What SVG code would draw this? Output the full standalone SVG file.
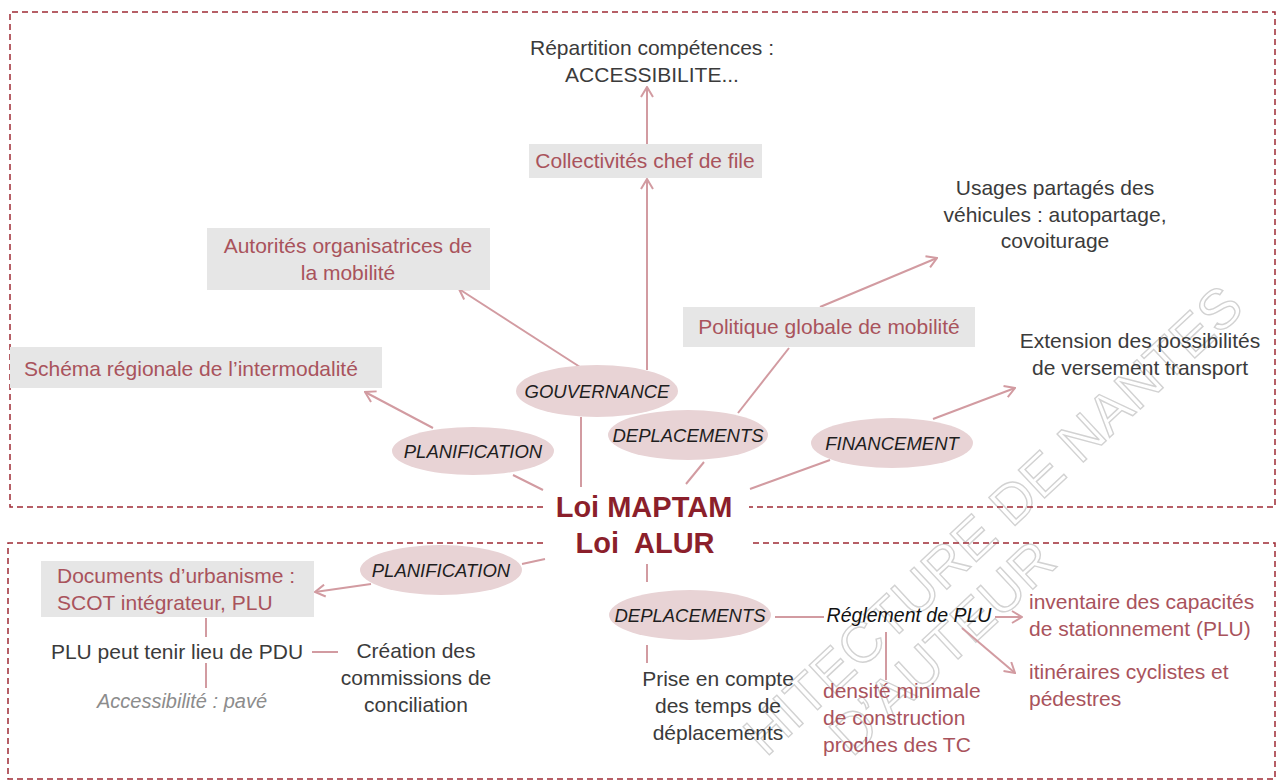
<svg xmlns="http://www.w3.org/2000/svg" width="1277" height="780" viewBox="0 0 1277 780">
<style>
  text { font-family: "Liberation Sans", Arial, sans-serif; }
  .dk { font-size: 21px; fill: #3b3b3b; text-anchor: middle; }
  .rd { font-size: 21px; fill: #a9535c; }
  .mid { text-anchor: middle; }
  .box { fill: #e6e6e6; }
  .ell { fill: #e8d3d5; }
  .el { font-size: 18.5px; font-style: italic; fill: #1e1e1e; text-anchor: middle; }
  .title { font-size: 29px; font-weight: bold; fill: #8b1f2b; text-anchor: middle; }
  .frame { fill: none; stroke: #9e2a35; stroke-width: 1.5; stroke-dasharray: 6 4; }
  .c { fill: none; stroke: #d29ba1; stroke-width: 2; }
  .a { marker-end: url(#arr); }
  .wm { font-size: 56px; fill: none; stroke: #d2d2d2; stroke-width: 1.4; }
</style>
<defs>
  <marker id="arr" viewBox="0 0 12 14" refX="11" refY="7" markerWidth="12" markerHeight="14" markerUnits="userSpaceOnUse" orient="auto">
    <path d="M1,1 L11,7 L1,13" fill="none" stroke="#d29ba1" stroke-width="2"/>
  </marker>
</defs>
<rect width="1277" height="780" fill="#ffffff"/>

<g id="watermark">
  <text class="wm" transform="translate(766,758) rotate(-43)">HITECTURE DE NANTES</text>
  <text class="wm" transform="translate(852,758) rotate(-43)">D’AUTEUR</text>
</g>

<g id="frames">
  <path class="frame" d="M543,507 H10 V12 H1275 V507 H749"/>
  <path class="frame" d="M543,543 H8 V779 H1275 V543 H749"/>
</g>

<g id="connectors">
  <line class="c a" x1="647" y1="144" x2="647" y2="87"/>
  <line class="c a" x1="647" y1="370" x2="647" y2="179"/>
  <line class="c a" x1="580" y1="367" x2="459" y2="289"/>
  <line class="c" x1="581" y1="417" x2="581" y2="487"/>
  <line class="c a" x1="433" y1="428" x2="365" y2="392"/>
  <line class="c" x1="513" y1="475" x2="543" y2="490"/>
  <line class="c" x1="738" y1="413" x2="789" y2="348"/>
  <line class="c" x1="704" y1="462" x2="686" y2="484"/>
  <line class="c a" x1="820" y1="307" x2="937" y2="258"/>
  <line class="c a" x1="933" y1="419" x2="1015" y2="388"/>
  <line class="c" x1="750" y1="489" x2="830" y2="460"/>
  <line class="c" x1="545" y1="559" x2="522" y2="564"/>
  <line class="c a" x1="371" y1="584" x2="315" y2="592"/>
  <line class="c" x1="206" y1="618" x2="206" y2="637"/>
  <line class="c" x1="206" y1="663" x2="206" y2="688"/>
  <line class="c" x1="312" y1="652" x2="338" y2="652"/>
  <line class="c" x1="647" y1="564" x2="647" y2="582"/>
  <line class="c" x1="647" y1="645" x2="647" y2="663"/>
  <line class="c" x1="775" y1="617" x2="824" y2="617"/>
  <line class="c a" x1="995" y1="617" x2="1022" y2="617"/>
  <line class="c" x1="886" y1="632" x2="886" y2="680"/>
  <line class="c a" x1="962" y1="628" x2="1015" y2="673"/>
</g>

<g id="n-repartition">
  <text class="dk" x="652" y="55">Répartition compétences :</text>
  <text class="dk" x="652" y="82">ACCESSIBILITE...</text>
</g>
<g id="n-collectivites">
  <rect class="box" x="529" y="144" width="233" height="34"/>
  <text class="rd mid" x="645" y="168">Collectivités chef de file</text>
</g>
<g id="n-autorites">
  <rect class="box" x="207" y="228" width="283" height="62"/>
  <text class="rd mid" x="348" y="253">Autorités organisatrices de</text>
  <text class="rd mid" x="348" y="280">la mobilité</text>
</g>
<g id="n-schema">
  <rect class="box" x="10" y="347" width="372" height="41"/>
  <text class="rd" x="24" y="376">Schéma régionale de l’intermodalité</text>
</g>
<g id="n-politique">
  <rect class="box" x="683" y="307" width="292" height="40"/>
  <text class="rd mid" x="829" y="334">Politique globale de mobilité</text>
</g>
<g id="n-usages">
  <text class="dk" x="1055" y="195">Usages partagés des</text>
  <text class="dk" x="1055" y="222">véhicules : autopartage,</text>
  <text class="dk" x="1055" y="248">covoiturage</text>
</g>
<g id="n-extension">
  <text class="dk" x="1140" y="348">Extension des possibilités</text>
  <text class="dk" x="1140" y="375">de versement transport</text>
</g>
<g id="n-gouvernance">
  <ellipse class="ell" cx="597" cy="391" rx="81" ry="26"/>
  <text class="el" x="597" y="398">GOUVERNANCE</text>
</g>
<g id="n-planif-top">
  <ellipse class="ell" cx="473" cy="451" rx="81" ry="24"/>
  <text class="el" x="473" y="458">PLANIFICATION</text>
</g>
<g id="n-deplac-top">
  <ellipse class="ell" cx="688" cy="435" rx="80" ry="25"/>
  <text class="el" x="688" y="442">DEPLACEMENTS</text>
</g>
<g id="n-financement">
  <ellipse class="ell" cx="892" cy="443" rx="81" ry="25"/>
  <text class="el" x="892" y="450">FINANCEMENT</text>
</g>
<g id="n-title">
  <text class="title" x="644" y="517">Loi MAPTAM</text>
  <text class="title" x="645" y="553" xml:space="preserve">Loi  ALUR</text>
</g>
<g id="n-planif-bottom">
  <ellipse class="ell" cx="441" cy="570" rx="81" ry="25"/>
  <text class="el" x="441" y="577">PLANIFICATION</text>
</g>
<g id="n-documents">
  <rect class="box" x="41" y="561" width="273" height="56"/>
  <text class="rd" x="57" y="583">Documents d’urbanisme :</text>
  <text class="rd" x="57" y="610">SCOT intégrateur, PLU</text>
</g>
<g id="n-plu">
  <text class="dk" x="177" y="659">PLU peut tenir lieu de PDU</text>
</g>
<g id="n-accessibilite">
  <text x="182" y="708" style="font-size:20px;font-style:italic;fill:#8c8c8c;text-anchor:middle">Accessibilité : pavé</text>
</g>
<g id="n-creation">
  <text class="dk" x="416" y="658">Création des</text>
  <text class="dk" x="416" y="685">commissions de</text>
  <text class="dk" x="416" y="712">conciliation</text>
</g>
<g id="n-deplac-bottom">
  <ellipse class="ell" cx="690" cy="615" rx="81" ry="25"/>
  <text class="el" x="690" y="622">DEPLACEMENTS</text>
</g>
<g id="n-prise">
  <text class="dk" x="718" y="686">Prise en compte</text>
  <text class="dk" x="718" y="713">des temps de</text>
  <text class="dk" x="718" y="740">déplacements</text>
</g>
<g id="n-reglement">
  <text x="909" y="622" style="font-size:19.5px;font-style:italic;fill:#111;text-anchor:middle">Réglement de PLU</text>
</g>
<g id="n-densite">
  <text class="rd" x="823" y="698">densité minimale</text>
  <text class="rd" x="823" y="725">de construction</text>
  <text class="rd" x="823" y="752">proches des TC</text>
</g>
<g id="n-inventaire">
  <text class="rd" x="1029" y="609">inventaire des capacités</text>
  <text class="rd" x="1029" y="636">de stationnement (PLU)</text>
</g>
<g id="n-itineraires">
  <text class="rd" x="1029" y="679">itinéraires cyclistes et</text>
  <text class="rd" x="1029" y="706">pédestres</text>
</g>
</svg>
